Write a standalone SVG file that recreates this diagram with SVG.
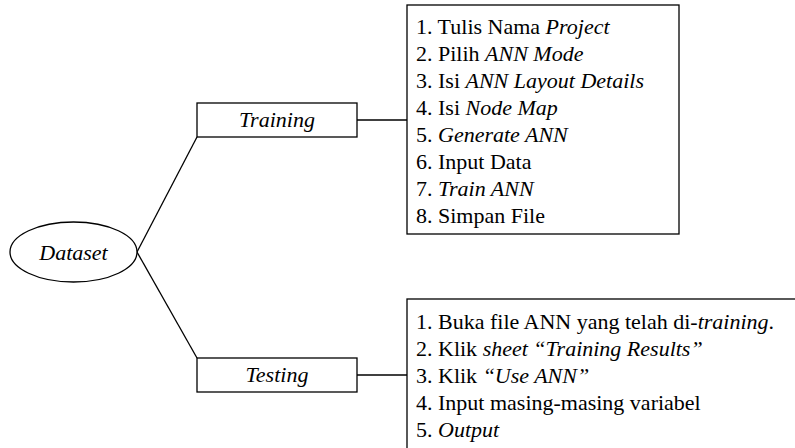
<svg xmlns="http://www.w3.org/2000/svg" width="795" height="448" viewBox="0 0 795 448" font-family="Liberation Serif, DejaVu Serif, serif">
  <style>
    .shape { fill: #fff; stroke: #000; stroke-width: 1.3; }
    .wire { fill: none; stroke: #000; stroke-width: 1.3; }
    text { font-size: 22px; fill: #000; }
    .it { font-style: italic; }
    .mid { text-anchor: middle; }
  </style>
  <rect width="795" height="448" fill="#fff"/>

  <!-- connectors -->
  <g id="connectors">
    <line class="wire" x1="137" y1="252" x2="197" y2="137"/>
    <line class="wire" x1="137" y1="252" x2="197" y2="358"/>
    <line class="wire" x1="357" y1="120" x2="407" y2="120"/>
    <line class="wire" x1="357" y1="375" x2="407" y2="375"/>
  </g>

  <g id="dataset">
    <ellipse class="shape" cx="73.5" cy="252" rx="63.5" ry="30"/>
    <text class="it mid" x="73.5" y="260" font-family="Liberation Serif, serif">Dataset</text>
  </g>

  <g id="training">
    <rect class="shape" x="197" y="103" width="160" height="34"/>
    <text class="it mid" x="277" y="127" font-family="Liberation Serif, serif">Training</text>
  </g>

  <g id="testing">
    <rect class="shape" x="197" y="358" width="160" height="34"/>
    <text class="it mid" x="277" y="382" font-family="Liberation Serif, serif">Testing</text>
  </g>

  <g id="training-steps" font-family="Liberation Serif, serif">
    <rect class="shape" x="407" y="5" width="272" height="229"/>
    <text x="416" y="34">1. Tulis Nama <tspan class="it">Project</tspan></text>
    <text x="416" y="61">2. Pilih <tspan class="it">ANN Mode</tspan></text>
    <text x="416" y="88">3. Isi <tspan class="it">ANN Layout Details</tspan></text>
    <text x="416" y="115">4. Isi <tspan class="it">Node Map</tspan></text>
    <text x="416" y="142">5. <tspan class="it">Generate ANN</tspan></text>
    <text x="416" y="169">6. Input Data</text>
    <text x="416" y="196">7. <tspan class="it">Train ANN</tspan></text>
    <text x="416" y="223">8. Simpan File</text>
  </g>

  <g id="testing-steps" font-family="Liberation Serif, serif">
    <rect class="shape" x="407" y="299" width="400" height="170"/>
    <text x="416" y="329">1. Buka file ANN yang telah di-<tspan class="it">training</tspan>.</text>
    <text x="416" y="356">2. Klik <tspan class="it">sheet “Training Results”</tspan></text>
    <text x="416" y="383">3. Klik <tspan class="it">“Use ANN”</tspan></text>
    <text x="416" y="410">4. Input masing-masing variabel</text>
    <text x="416" y="437">5. <tspan class="it">Output</tspan></text>
  </g>
</svg>
